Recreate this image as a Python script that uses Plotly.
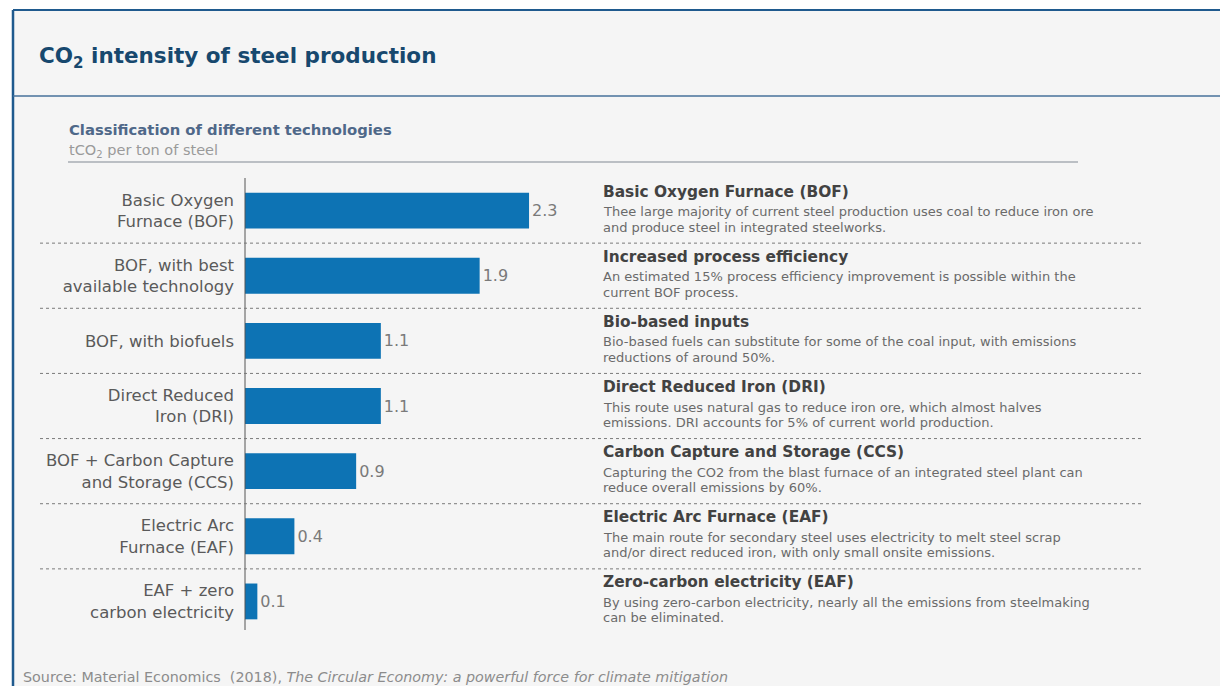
import plotly.graph_objects as go

W, H = 1220, 686

categories = ["Basic Oxygen<br>Furnace (BOF)", "BOF, with best<br>available technology", "BOF, with biofuels",
              "Direct Reduced<br>Iron (DRI)", "BOF + Carbon Capture<br>and Storage (CCS)",
              "Electric Arc<br>Furnace (EAF)", "EAF + zero<br>carbon electricity"]
values = [2.3, 1.9, 1.1, 1.1, 0.9, 0.4, 0.1]
value_labels = ["2.3", "1.9", "1.1", "1.1", "0.9", "0.4", "0.1"]
headings = ["Basic Oxygen Furnace (BOF)", "Increased process efficiency", "Bio-based inputs",
            "Direct Reduced Iron (DRI)", "Carbon Capture and Storage (CCS)",
            "Electric Arc Furnace (EAF)", "Zero-carbon electricity (EAF)"]
descriptions = [
    "Thee large majority of current steel production uses coal to reduce iron ore<br>and produce steel in integrated steelworks.",
    "An estimated 15% process efficiency improvement is possible within the<br>current BOF process.",
    "Bio-based fuels can substitute for some of the coal input, with emissions<br>reductions of around 50%.",
    "This route uses natural gas to reduce iron ore, which almost halves<br>emissions. DRI accounts for 5% of current world production.",
    "Capturing the CO2 from the blast furnace of an integrated steel plant can<br>reduce overall emissions by 60%.",
    "The main route for secondary steel uses electricity to melt steel scrap<br>and/or direct reduced iron, with only small onsite emissions.",
    "By using zero-carbon electricity, nearly all the emissions from steelmaking<br>can be eliminated.",
]

FONT = "DejaVu Sans"
px = lambda x: x / W
py = lambda y: 1 - y / H

x0_px, x1_px = 245, 600
unit_px = 123.5
y_top, y_bot = 178, 634

fig = go.Figure()
fig.add_trace(go.Bar(
    x=values, y=categories, orientation="h", width=0.55,
    marker=dict(color="#0d73b4", line=dict(width=0)),
    text=value_labels, textposition="outside",
    textfont=dict(family=FONT, size=16, color="#7a7a7a"),
    cliponaxis=False, hoverinfo="skip",
))

shapes = []
shapes.append(dict(type="rect", xref="paper", yref="paper", x0=px(13), x1=1, y0=0, y1=py(10),
                   fillcolor="#f5f5f5", line=dict(width=0), layer="below"))
shapes.append(dict(type="line", xref="paper", yref="paper", x0=px(13), x1=1, y0=py(10), y1=py(10),
                   line=dict(color="#1f5a8e", width=2)))
shapes.append(dict(type="line", xref="paper", yref="paper", x0=px(13), x1=px(13), y0=0, y1=py(10),
                   line=dict(color="#1f5a8e", width=2.5)))
shapes.append(dict(type="line", xref="paper", yref="paper", x0=px(13), x1=1, y0=py(96), y1=py(96),
                   line=dict(color="#46709a", width=1.5)))
shapes.append(dict(type="line", xref="paper", yref="paper", x0=px(68), x1=px(1078), y0=py(162), y1=py(162),
                   line=dict(color="#a7adb3", width=1.5)))
shapes.append(dict(type="line", xref="paper", yref="paper", x0=px(245), x1=px(245), y0=py(178), y1=py(630),
                   line=dict(color="#555555", width=1)))
for i in range(len(categories) - 1):
    shapes.append(dict(type="line", xref="paper", yref="y", x0=px(40), x1=px(1142),
                       y0=i + 0.5, y1=i + 0.5, line=dict(color="#7a7a7a", width=1, dash="3px,3px")))

annotations = []
annotations.append(dict(text="<b>CO<sub>2</sub> intensity of steel production</b>", xref="paper", yref="paper",
                        x=px(37), y=py(58), xanchor="left", yanchor="middle", showarrow=False,
                        font=dict(family=FONT, size=21.5, color="#17486e")))
annotations.append(dict(text="<b>Classification of different technologies</b>", xref="paper", yref="paper",
                        x=px(67), y=py(130), xanchor="left", yanchor="middle", showarrow=False,
                        font=dict(family=FONT, size=14.8, color="#4f6889")))
annotations.append(dict(text="tCO<sub>2</sub> per ton of steel", xref="paper", yref="paper",
                        x=px(67), y=py(151), xanchor="left", yanchor="middle", showarrow=False,
                        font=dict(family=FONT, size=14.5, color="#9a9a9a")))
annotations.append(dict(text="Source: Material Economics  (2018), <i>The Circular Economy: a powerful force for climate mitigation</i>",
                        xref="paper", yref="paper", x=px(21), y=py(677), xanchor="left", yanchor="middle",
                        showarrow=False, font=dict(family=FONT, size=14.3, color="#8c8c8c")))
for cat, head, desc in zip(categories, headings, descriptions):
    annotations.append(dict(text="<b>" + head + "</b>", xref="paper", yref="y", x=px(601), y=cat,
                            xanchor="left", yanchor="middle", yshift=19, showarrow=False,
                            font=dict(family=FONT, size=15.4, color="#424242")))
    for k, line in enumerate(desc.split("<br>")):
        annotations.append(dict(text=line, xref="paper", yref="y", x=px(601), y=cat,
                                xanchor="left", yanchor="middle", yshift=-1 - 15.5 * k, showarrow=False,
                                font=dict(family=FONT, size=13, color="#6a6a6a")))

fig.update_layout(
    width=W, height=H,
    margin=dict(l=0, r=0, t=0, b=0),
    paper_bgcolor="white", plot_bgcolor="rgba(0,0,0,0)",
    showlegend=False,
    xaxis=dict(domain=[px(x0_px), px(x1_px)], range=[0, (x1_px - x0_px) / unit_px],
               visible=False, fixedrange=True),
    yaxis=dict(domain=[py(y_bot), py(y_top)], range=[len(categories) - 0.5, -0.5],
               showline=False, showgrid=False, zeroline=False, ticks="",
               tickfont=dict(family=FONT, size=16.5, color="#5a5a5a"), ticklabelstandoff=10,
               fixedrange=True),
    shapes=shapes, annotations=annotations,
)

fig.write_html("out.html", config={"displayModeBar": False},
               post_script="document.body.style.margin='0';document.body.style.overflow='hidden';")
